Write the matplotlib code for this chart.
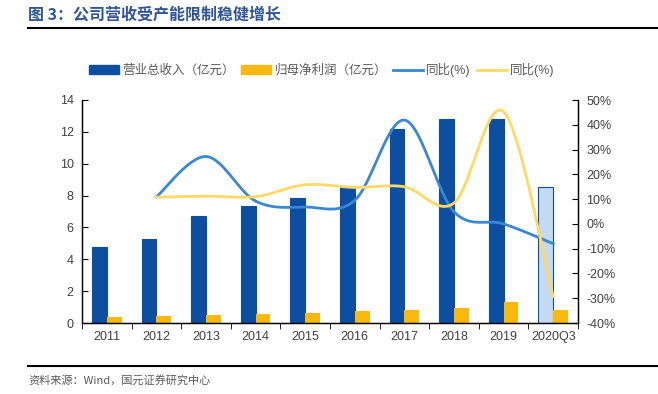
import numpy as np
import matplotlib
matplotlib.use('Agg')
import matplotlib.pyplot as plt
from matplotlib.lines import Line2D
from matplotlib.patches import Patch

plt.rcParams['font.family'] = ['Liberation Sans', 'Noto Sans CJK SC', 'DejaVu Sans']

# data
years = ['2011', '2012', '2013', '2014', '2015', '2016', '2017', '2018', '2019', '2020Q3']
revenue = [4.77, 5.29, 6.73, 7.35, 7.85, 8.6, 12.2, 12.8, 12.8, 8.56]        # 亿元
profit = [0.40, 0.44, 0.48, 0.54, 0.64, 0.73, 0.83, 0.92, 1.31, 0.81]        # 亿元
rev_yoy = [None, 10.9, 27.2, 9.2, 6.8, 9.5, 41.9, 4.9, 0.0, -8.0]             # %
profit_yoy = [None, 10.8, 11.2, 11.0, 15.8, 14.7, 15.0, 8.4, 45.3, -29.3]    # %

navy = '#0D4EA0'
gold = '#FBB90F'
line_blue = '#3A87D4'
line_yellow = '#FFD966'
light_blue = '#C5D9F1'
txt = '#404040'


def smooth(xs, ys, n=30):
    # catmull-rom curve through the points (like excel smoothed lines)
    xs = np.asarray(xs, float)
    ys = np.asarray(ys, float)
    px = np.concatenate([[xs[0]], xs, [xs[-1]]])
    py = np.concatenate([[ys[0]], ys, [ys[-1]]])
    outx, outy = [], []
    for i in range(1, len(px) - 2):
        t = np.linspace(0, 1, n)
        for p, out in ((px, outx), (py, outy)):
            p0, p1, p2, p3 = p[i - 1], p[i], p[i + 1], p[i + 2]
            out.extend(0.5 * (2 * p1 + (-p0 + p2) * t
                              + (2 * p0 - 5 * p1 + 4 * p2 - p3) * t ** 2
                              + (-p0 + 3 * p1 - 3 * p2 + p3) * t ** 3))
    return np.array(outx), np.array(outy)


fig = plt.figure(figsize=(6.58, 3.94), dpi=100)
ax = fig.add_axes([82 / 658, 1 - 323 / 394, 496 / 658, 223 / 394])
ax2 = ax.twinx()

x = np.arange(len(years))
w = 0.3
colors = [navy] * (len(years) - 1) + [light_blue]
edges = [navy] * len(years)
ax.bar(x - w / 2, revenue, w, color=colors, edgecolor=edges, linewidth=0.8, zorder=2)
ax.bar(x + w / 2, profit, w, color=gold, zorder=2)

ax.set_xlim(-0.5, len(years) - 0.5)
ax.set_ylim(0, 14)
ax.set_yticks(range(0, 15, 2))
ax.set_xticks(x)
ax.set_xticklabels(years)
ax.set_xticks(np.arange(-0.5, len(years), 1), minor=True)
ax.tick_params(axis='x', which='major', length=0, labelsize=9, colors=txt, pad=6)
ax.tick_params(axis='x', which='minor', length=4, direction='out', color='black')
ax.tick_params(axis='y', length=4, direction='in', labelsize=9, colors=txt, pad=6)
ax.tick_params(axis='y', color='black')

xi = x[1:]
sx, sy = smooth(xi, rev_yoy[1:])
ax2.plot(sx, sy, color=line_blue, lw=2, zorder=3)
sx, sy = smooth(xi, profit_yoy[1:])
ax2.plot(sx, sy, color=line_yellow, lw=2, zorder=3)
ax2.set_ylim(-40, 50)
ax2.set_yticks(range(-40, 51, 10))
ax2.set_yticklabels([f'{v}%' for v in range(-40, 51, 10)])
ax2.tick_params(axis='y', length=4, direction='in', labelsize=9, colors=txt, pad=6)
ax2.tick_params(axis='y', color='black')

for a in (ax, ax2):
    a.spines['top'].set_visible(False)
    for s in ('left', 'right', 'bottom'):
        a.spines[s].set_color('black')
        a.spines[s].set_linewidth(0.9)

handles = [Patch(color=navy), Patch(color=gold),
           Line2D([], [], color=line_blue, lw=2), Line2D([], [], color=line_yellow, lw=2)]
labels = ['营业总收入（亿元）', '归母净利润（亿元）', '同比(%)', '同比(%)']
leg = fig.legend(handles, labels, loc='center', bbox_to_anchor=(322 / 658, 1 - 70 / 394),
                 ncol=4, frameon=False, fontsize=9, handlelength=2.4, handleheight=0.7,
                 columnspacing=0.5, handletextpad=0.25)
for t in leg.get_texts():
    t.set_color('#595959')

fig.text(28 / 658, 1 - 15 / 394, '图 3：公司营收受产能限制稳健增长', fontsize=11.5,
         fontweight='bold', color='#2F5597', va='center', ha='left',
         family=['Noto Sans CJK SC', 'DejaVu Sans'])
fig.add_artist(Line2D([28 / 658, 1], [1 - 28 / 394, 1 - 28 / 394], color='black', lw=1.5))
fig.add_artist(Line2D([28 / 658, 1], [1 - 366 / 394, 1 - 366 / 394], color='black', lw=1.5))
fig.text(28 / 658, 1 - 380 / 394, '资料来源：Wind，国元证券研究中心', fontsize=8,
         color='#595959', va='center', ha='left',
         family=['Noto Sans CJK SC', 'DejaVu Sans'])

fig.savefig('out.png', dpi=100)
